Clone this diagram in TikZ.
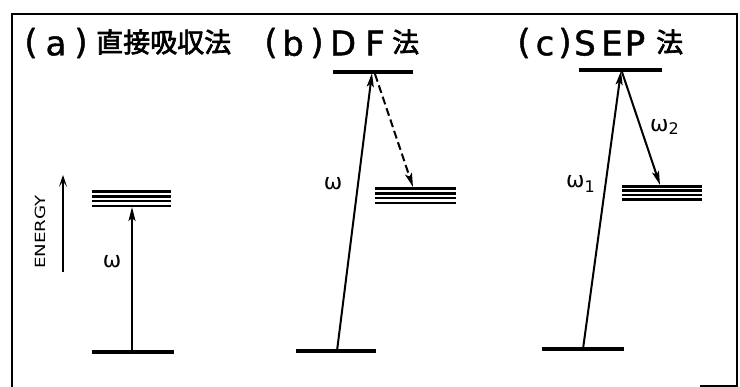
\documentclass[tikz,border=0pt]{standalone}
\usepackage{fontspec}
\setmainfont{DejaVu Sans}
\newfontfamily\cjk[FakeBold=2.5]{Noto Sans CJK JP}
\newfontfamily\tfont[FakeBold=1.2]{DejaVu Sans}
\usetikzlibrary{arrows.meta}
\begin{document}
\begin{tikzpicture}[x=1pt,y=-1pt,
  level/.style={line width=3.4pt},
  band/.style={line width=2.6pt},
  trans/.style={line width=2pt,-{Stealth[length=14pt,width=7pt,inset=3pt]}},
  cj/.style={anchor=west,inner sep=0pt,font=\cjk\fontsize{27}{27}\selectfont},
  lt/.style={inner sep=0pt,font=\tfont\fontsize{34}{34}\selectfont},
  lab/.style={inner sep=0pt,font=\fontsize{22}{22}\selectfont}]
\useasboundingbox (0,0) rectangle (740,387);
% frame
\draw[line width=2.5pt] (12,387) -- (12,14) -- (737,14) -- (737,387);
\draw[line width=2.5pt] (700,386) -- (737,386);
% titles
\node[lt] (pa1) at (31,43) {(};
\node[lt] (la)  at (56,46) {a};
\node[lt] (pa2) at (81,43) {)};
\node[cj] (ta)  at (96,42) {直接吸収法};
\node[lt] (pb1) at (271,43) {(};
\node[lt] (lb)  at (293,43) {b};
\node[lt] (pb2) at (317,43) {)};
\node[lt] (tb1) at (343,43) {D};
\node[lt] (tb2) at (375,43) {F};
\node[cj] (tbj) at (392,42) {法};
\node[lt] (pc1) at (524,43) {(};
\node[lt] (lc)  at (545,46) {c};
\node[lt] (pc2) at (565,43) {)};
\node[lt] (tc1) at (585,43) {S};
\node[lt] (tc2) at (612,43) {E};
\node[lt] (tc3) at (635,43) {P};
\node[cj] (tcj) at (656,42) {法};
% (a)
\coordinate (eb) at (63,272);
\coordinate (et) at (63,175);
\draw[line width=1.8pt,-{Stealth[length=12pt,width=8pt,inset=6pt]}] (eb) -- (et);
\node[rotate=90,inner sep=0pt,font=\fontsize{14}{14}\selectfont] (en) at (40,232) {\scalebox{1.3}[1]{ENERGY}};
\coordinate (a1) at (92,352); \coordinate (a2) at (174,352);
\draw[level] (a1) -- (a2);
\foreach \yy in {191.5,196.3,201.1,205.9}{\draw[band] (92,\yy) -- (171,\yy);}
\coordinate (aB) at (132,352); \coordinate (aT) at (132,207);
\draw[trans] (aB) -- (aT);
\node[lab] (wa) at (112,262) {ω};
% (b)
\coordinate (b1) at (296,351); \coordinate (b2) at (376,351);
\draw[level] (b1) -- (b2);
\coordinate (bu1) at (333,72); \coordinate (bu2) at (413,72);
\draw[level] (bu1) -- (bu2);
\foreach \yy in {188.5,193.3,198.1,202.9}{\draw[band] (375,\yy) -- (456,\yy);}
\coordinate (bB) at (337,351); \coordinate (bT) at (372,73);
\draw[trans] (bB) -- (bT);
\coordinate (bS) at (375,74); \coordinate (bE) at (413,187);
\draw[trans,dash pattern=on 8pt off 4pt] (bS) -- (bE);
\node[lab] (wb) at (333,184) {ω};
% (c)
\coordinate (c1) at (542,349); \coordinate (c2) at (624,349);
\draw[level] (c1) -- (c2);
\coordinate (cu1) at (579,70); \coordinate (cu2) at (662,70);
\draw[level] (cu1) -- (cu2);
\foreach \yy in {186.5,190.8,195.1,199.4}{\draw[band] (622,\yy) -- (702,\yy);}
\coordinate (cB) at (583,349); \coordinate (cT) at (621,71);
\draw[trans] (cB) -- (cT);
\coordinate (cS) at (622,72); \coordinate (cE) at (660,185);
\draw[trans] (cS) -- (cE);
\node[lab,anchor=west] (w1) at (566,184) {ω\raisebox{-5pt}{\fontsize{16}{16}\selectfont 1}};
\node[lab,anchor=west] (w2) at (650,127) {ω\raisebox{-3pt}{\fontsize{16}{16}\selectfont 2}};
\end{tikzpicture}
\end{document}
